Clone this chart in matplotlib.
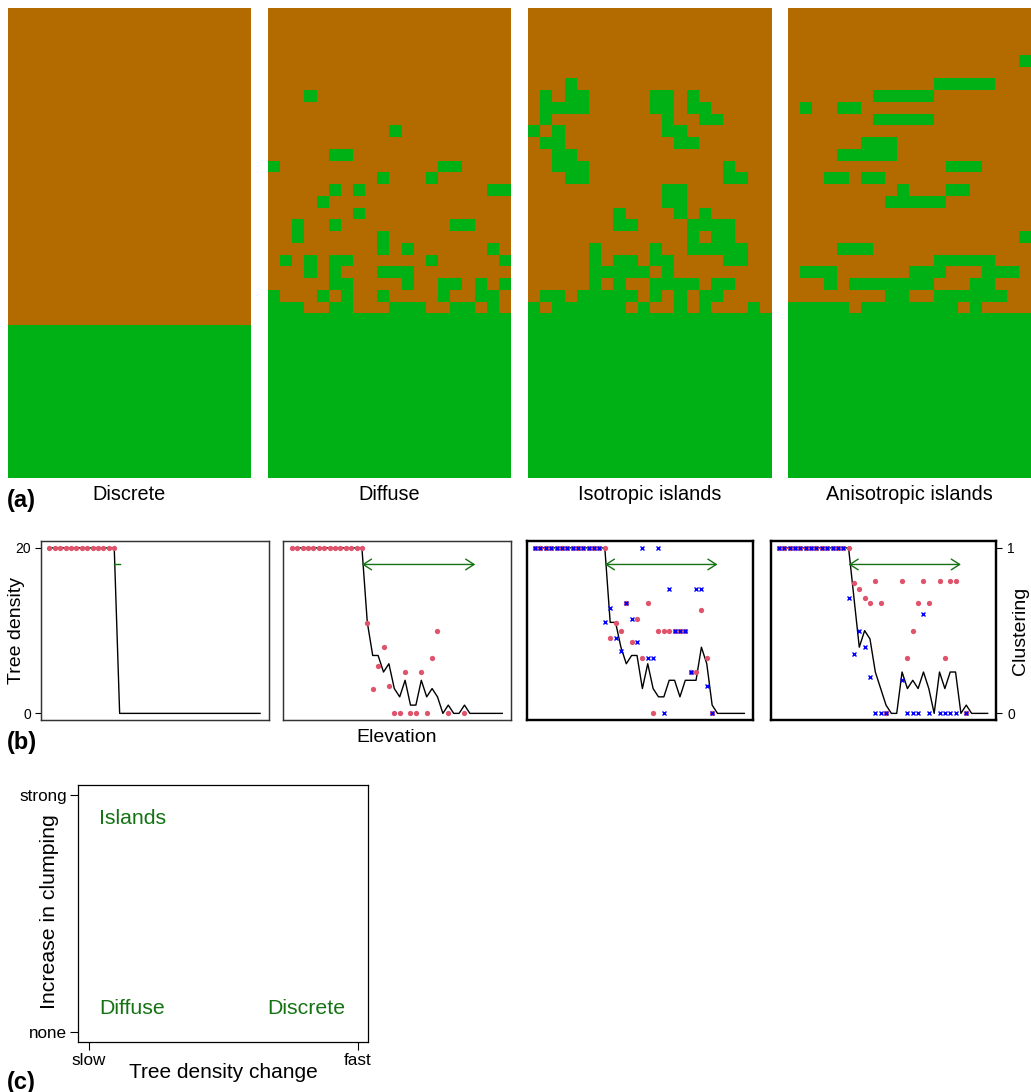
import numpy as np
import matplotlib
matplotlib.use('Agg')
import matplotlib.pyplot as plt
from matplotlib.colors import ListedColormap

plt.rcParams['font.family'] = ['Liberation Sans', 'DejaVu Sans']

# ---------------------------------------------------------------- data
panel_names = ['Discrete', 'Diffuse', 'Isotropic islands', 'Anisotropic islands']

# tree maps: '#' = tree (green), '.' = no tree (brown); first row = top (highest elevation)
grid_discrete = [
    '....................', '....................', '....................', '....................',
    '....................', '....................', '....................', '....................',
    '....................', '....................', '....................', '....................',
    '....................', '....................', '....................', '....................',
    '....................', '....................', '....................', '....................',
    '....................', '....................', '....................', '....................',
    '....................', '....................', '....................', '####################',
    '####################', '####################', '####################', '####################',
    '####################', '####################', '####################', '####################',
    '####################', '####################', '####################', '####################',
]
grid_diffuse = [
    '....................', '....................', '....................', '....................',
    '....................', '....................', '....................', '...#................',
    '....................', '....................', '..........#.........', '....................',
    '.....##.............', '#.............##....', '.........#...#......', '.....#.#..........##',
    '....#...............', '.......#............', '..#..#.........##...', '..#......#..........',
    '.........#.#......#.', '.#.#.##......#.....#', '...#.#...###........', '.....##....#..##.#.#',
    '#...#.#..#....#..##.', '###..##...###..##.#.', '####################', '####################',
    '####################', '####################', '####################', '####################',
    '####################', '####################', '####################', '####################',
    '####################', '####################', '####################', '####################',
]
grid_isotropic = [
    '....................', '....................', '....................', '....................',
    '....................', '....................', '...#................', '.#.##.....##.#......',
    '.####.....##.##.....', '.#.........#..##....', '#.#........##.......', '.##.........##......',
    '..##................', '..###...........#...', '...##...........##..', '...........##.......',
    '...........##.......', '.......#....#.#.....', '.......##....####...', '.............#.##...',
    '.....#....#..#####..', '.....#.##.##....##..', '.....#####.#........', '.....#.#..####.##...',
    '.##.#####.#.#.##....', '#.######.#..#.#...#.', '####################', '####################',
    '####################', '####################', '####################', '####################',
    '####################', '####################', '####################', '####################',
    '####################', '####################', '####################', '####################',
]
grid_anisotropic = [
    '....................', '....................', '....................', '....................',
    '...................#', '....................', '............#####...', '.......#####........',
    '.#..##..............', '.......#####........', '....................', '......###...........',
    '....#####...........', '.............###....', '...##.##............', '.........#...##.....',
    '........#####.......', '....................', '....................', '...................#',
    '....###.............', '............#####...', '.###......###...###.', '...#.#######...##...',
    '........##..######..', '#####.########.#....', '####################', '####################',
    '####################', '####################', '####################', '####################',
    '####################', '####################', '####################', '####################',
    '####################', '####################', '####################', '####################',
]

elevation = list(range(1, 41))
N = None
density_discrete = [20, 20, 20, 20, 20, 20, 20, 20, 20, 20, 20, 20, 20, 0, 0, 0, 0, 0, 0, 0,
                    0, 0, 0, 0, 0, 0, 0, 0, 0, 0, 0, 0, 0, 0, 0, 0, 0, 0, 0, 0]
density_diffuse = [20, 20, 20, 20, 20, 20, 20, 20, 20, 20, 20, 20, 20, 20, 11, 7, 7, 5, 6, 3,
                   2, 4, 1, 1, 4, 2, 3, 2, 0, 1, 0, 0, 1, 0, 0, 0, 0, 0, 0, 0]
density_isotropic = [20, 20, 20, 20, 20, 20, 20, 20, 20, 20, 20, 20, 20, 20, 11, 11, 8, 6, 7, 7,
                     3, 6, 3, 2, 2, 4, 4, 2, 4, 4, 4, 8, 6, 1, 0, 0, 0, 0, 0, 0]
density_anisotropic = [20, 20, 20, 20, 20, 20, 20, 20, 20, 20, 20, 20, 20, 20, 14, 8, 10, 9, 5, 3,
                       1, 0, 0, 5, 3, 4, 3, 5, 3, 0, 5, 3, 5, 5, 0, 1, 0, 0, 0, 0]

pink_discrete = [1, 1, 1, 1, 1, 1, 1, 1, 1, 1, 1, 1, 1, N, N, N, N, N, N, N,
                 N, N, N, N, N, N, N, N, N, N, N, N, N, N, N, N, N, N, N, N]
pink_diffuse = [1, 1, 1, 1, 1, 1, 1, 1, 1, 1, 1, 1, 1, 1, .545, .145, .287, .4, .168, 0,
                0, .25, 0, 0, .25, 0, .333, .5, N, 0, N, N, 0, N, N, N, N, N, N, N]
pink_isotropic = [1, 1, 1, 1, 1, 1, 1, 1, 1, 1, 1, 1, 1, 1, .455, .545, .5, .667, .429, .571,
                  .333, .667, 0, .5, .5, .5, .5, .5, .5, .25, .25, .625, .333, 0, N, N, N, N, N, N]
pink_anisotropic = [1, 1, 1, 1, 1, 1, 1, 1, 1, 1, 1, 1, 1, 1, .786, .75, .7, .667, .8, .667,
                    0, N, N, .8, .333, .5, .667, .8, .667, N, .8, .333, .8, .8, N, 0, N, N, N, N]
blue_isotropic = [1, 1, 1, 1, 1, 1, 1, 1, 1, 1, 1, 1, 1, .55, .636, .455, .375, .667, .571, .429,
                  1, .333, .333, 1, 0, .75, .5, .5, .5, .25, .75, .75, .167, 0, N, N, N, N, N, N]
blue_anisotropic = [1, 1, 1, 1, 1, 1, 1, 1, 1, 1, 1, 1, 1, .7, .357, .5, .4, .222, 0, 0,
                    0, N, N, .2, 0, 0, 0, .6, 0, N, 0, 0, 0, 0, N, 0, N, N, N, N]

arrow_from = [13, 14, 14, 14]
arrow_to = [14, 35, 35, 35]
arrow_level = 18

c_labels = ['Islands', 'Diffuse', 'Discrete']
c_x = [0.037, 0.037, 0.662]
c_y = [0.9, 0.1, 0.1]

# ---------------------------------------------------------------- style
W, H = 1031, 1092
BROWN = '#B36B00'
GREEN = '#00B116'
PINK = '#DF536B'
BLUE = '#0000FF'
DKGREEN = '#137313'

fig = plt.figure(figsize=(W / 100, H / 100), dpi=100)


def add_ax(x0, y0, x1, y1):
    return fig.add_axes([x0 / W, 1 - y1 / H, (x1 - x0) / W, (y1 - y0) / H])


def ftext(x, y, s, **kw):
    fig.text(x / W, 1 - y / H, s, **kw)


# ---------------------------------------------------------------- (a)
grids = [grid_discrete, grid_diffuse, grid_isotropic, grid_anisotropic]
a_boxes = [(8, 8, 251, 478), (268, 8, 511, 478), (528, 8, 771, 478), (788, 8, 1030.3, 478)]
cmap = ListedColormap([BROWN, GREEN])
for g, box, name in zip(grids, a_boxes, panel_names):
    ax = add_ax(*box)
    arr = np.array([[1 if ch == '#' else 0 for ch in row] for row in g])
    ax.imshow(arr, cmap=cmap, vmin=0, vmax=1, aspect='auto', interpolation='nearest',
              extent=(0, arr.shape[1], arr.shape[0], 0))
    ax.set_axis_off()
    ftext((box[0] + box[2]) / 2, 495, name, ha='center', va='center', fontsize=14.3)
ftext(7, 501, '(a)', ha='left', va='center', fontsize=17, fontweight='bold')

# ---------------------------------------------------------------- (b)
densities = [density_discrete, density_diffuse, density_isotropic, density_anisotropic]
pinks = [pink_discrete, pink_diffuse, pink_isotropic, pink_anisotropic]
blues = [None, None, blue_isotropic, blue_anisotropic]
b_boxes = [(41, 541.3, 268.5, 720), (283.3, 541.3, 510.7, 720),
           (526.7, 541.3, 752.7, 720), (770.7, 541.3, 996, 720)]
frame_lw = [0.9, 0.9, 1.6, 1.6]
frame_col = ['#333333', '#333333', 'black', 'black']


def arr_of(v):
    return np.array([np.nan if x is None else x for x in v], dtype=float)


for i in range(4):
    ax = add_ax(*b_boxes[i])
    ax.plot(elevation, densities[i], color='black', lw=1.0, zorder=2)
    ax.set_xlim(1 - 0.04 * 39, 40 + 0.04 * 39)
    ax.set_ylim(-0.04 * 20, 20 + 0.04 * 20)
    ax.set_xticks([])
    if arrow_to[i] - arrow_from[i] > 2:
        ax.annotate('', xy=(arrow_to[i], arrow_level), xytext=(arrow_from[i], arrow_level),
                    arrowprops=dict(arrowstyle='<->,head_length=0.5,head_width=0.32',
                                    color=DKGREEN, lw=1.0, shrinkA=0, shrinkB=0,
                                    mutation_scale=12), zorder=3)
    else:
        ax.plot([arrow_from[i], arrow_to[i]], [arrow_level, arrow_level], color=DKGREEN, lw=1.0)
    if i == 0:
        ax.set_yticks([0, 20])
        ax.tick_params(axis='y', length=4, width=0.8, pad=3, labelsize=10)
    else:
        ax.set_yticks([])
    ax2 = ax.twinx()
    ax2.set_ylim(-0.04, 1.04)
    ax2.plot(elevation, arr_of(pinks[i]), 'o', color=PINK, ms=3.8, mec='none', zorder=3)
    if blues[i] is not None:
        ax2.plot(elevation, arr_of(blues[i]), 'x', color=BLUE, ms=3.4, mew=1.0, zorder=4)
    if i == 3:
        ax2.set_yticks([0, 1])
        ax2.tick_params(axis='y', length=4, width=0.8, pad=4, labelsize=10)
    else:
        ax2.set_yticks([])
    for a in (ax, ax2):
        for sp in a.spines.values():
            sp.set_linewidth(frame_lw[i])
            sp.set_color(frame_col[i])

ftext(397, 737, 'Elevation', ha='center', va='center', fontsize=14)
ftext(16.5, 631, 'Tree density', ha='center', va='center', rotation=90, fontsize=14)
ftext(1020, 631, 'Clustering', ha='center', va='center', rotation=90, fontsize=14)
ftext(7, 743, '(b)', ha='left', va='center', fontsize=17, fontweight='bold')

# ---------------------------------------------------------------- (c)
axc = add_ax(78.3, 785, 368.3, 1041.7)
axc.set_xlim(-0.04, 1.04)
axc.set_ylim(-0.04, 1.04)
axc.set_xticks([0, 1])
axc.set_xticklabels(['slow', 'fast'])
axc.set_yticks([0, 1])
axc.set_yticklabels(['none', 'strong'])
axc.tick_params(axis='both', length=6, width=0.8, pad=2, labelsize=12.3)
for sp in axc.spines.values():
    sp.set_linewidth(0.9)
for s, x, y in zip(c_labels, c_x, c_y):
    axc.text(x, y, s, ha='left', va='center', fontsize=15.3, color=DKGREEN)
ftext(223.3, 1073, 'Tree density change', ha='center', va='center', fontsize=15)
ftext(50, 912, 'Increase in clumping', ha='center', va='center', rotation=90, fontsize=15.3)
ftext(7, 1082, '(c)', ha='left', va='center', fontsize=17, fontweight='bold')

fig.savefig('out.png', dpi=100)
